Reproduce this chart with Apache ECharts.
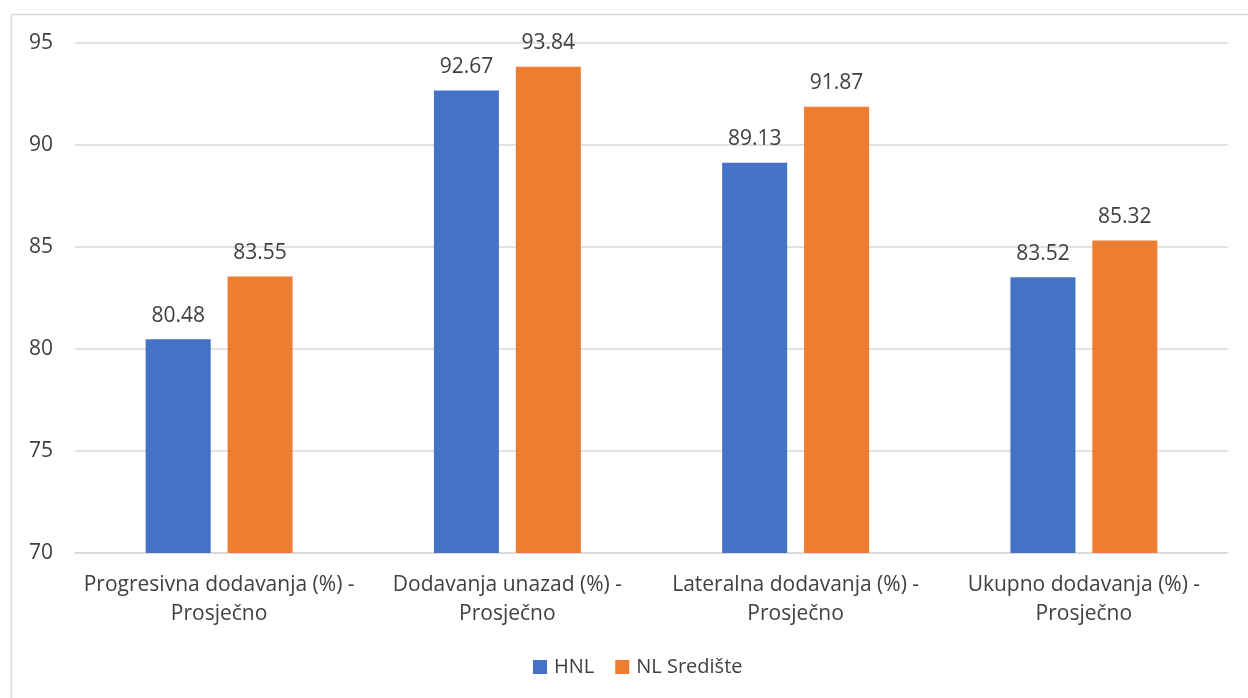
<!DOCTYPE html>
<html>
<head>
<meta charset="utf-8">
<script src="https://cdn.jsdelivr.net/npm/echarts@6/dist/echarts.min.js"></script>
<style>html,body{margin:0;padding:0;background:#fff}#c{width:1248px;height:698px}</style>
</head>
<body>
<div id="c"></div>
<script>
const categories = ["Progresivna dodavanja (%) -\nProsječno", "Dodavanja unazad (%) -\nProsječno", "Lateralna dodavanja (%) -\nProsječno", "Ukupno dodavanja (%) -\nProsječno"];
const hnl = [80.48, 92.67, 89.13, 83.52];
const nlSrediste = [83.55, 93.84, 91.87, 85.32];
const seriesNames = ["HNL", "NL Središte"];
const font = "'Open Sans', sans-serif";
const chart = echarts.init(document.getElementById('c'));
const lbl = {show: true, position: 'top', distance: 13, color: '#404040', fontSize: 21, fontFamily: font};
chart.setOption({
  animation: false,
  textStyle: {fontFamily: font},
  graphic: [{type: 'rect', shape: {x: 11.5, y: 14.5, width: 1250, height: 700}, style: {fill: 'none', stroke: '#d9d9d9', lineWidth: 1.5}, silent: true}],
  grid: {left: 75, right: 20, top: 43, bottom: 145},
  legend: {bottom: 16, left: 528, itemWidth: 14, itemHeight: 14, itemGap: 21, icon: 'rect',
    textStyle: {color: '#404040', fontSize: 20, fontFamily: font, padding: [0, 0, 0, 2]}, data: seriesNames},
  xAxis: {type: 'category', data: categories,
    axisLine: {lineStyle: {color: '#d9d9d9', width: 1.5}}, axisTick: {show: false},
    axisLabel: {color: '#404040', fontSize: 21, lineHeight: 29, margin: 18, fontFamily: font, interval: 0}},
  yAxis: {type: 'value', min: 70, max: 95, interval: 5,
    axisLine: {show: false}, axisTick: {show: false},
    splitLine: {lineStyle: {color: '#d9d9d9', width: 1.5}},
    axisLabel: {color: '#404040', fontSize: 21, margin: 22, fontFamily: font}},
  series: [
    {name: seriesNames[0], type: 'bar', data: hnl, barWidth: 65, barGap: '26%', itemStyle: {color: '#4472c4'}, label: lbl},
    {name: seriesNames[1], type: 'bar', data: nlSrediste, barWidth: 65, itemStyle: {color: '#ed7d31'}, label: lbl}
  ]
});
</script>
</body>
</html>
